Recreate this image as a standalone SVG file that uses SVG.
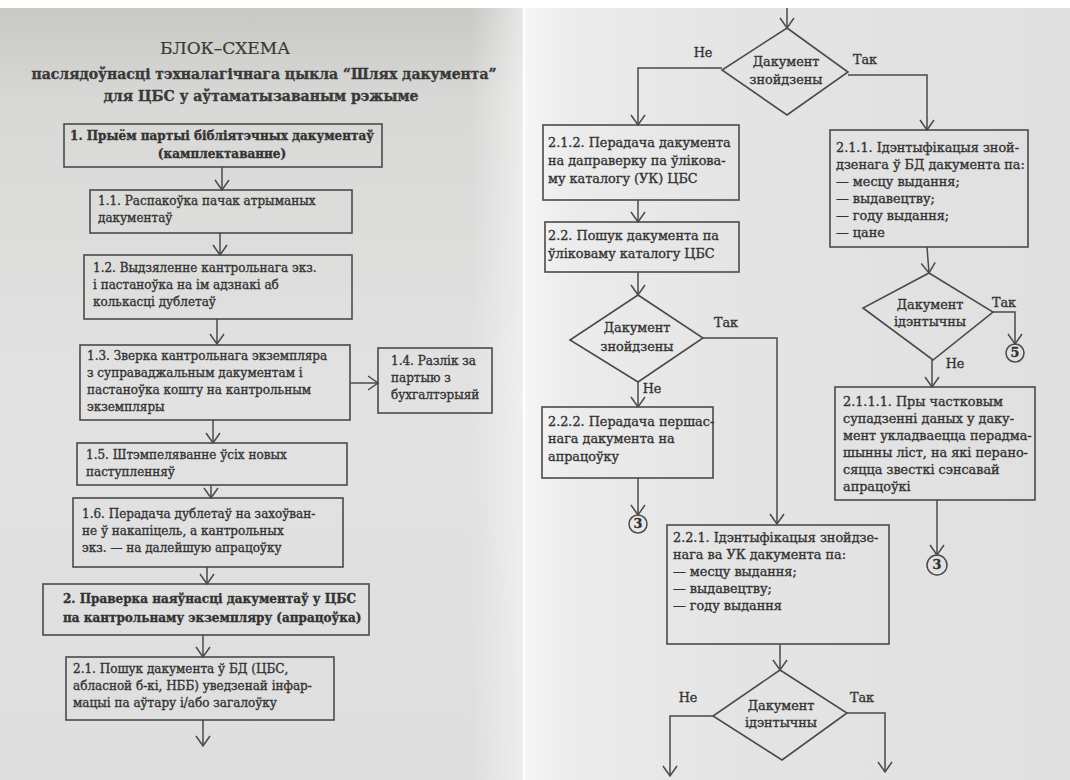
<svg xmlns="http://www.w3.org/2000/svg" width="1070" height="780" viewBox="0 0 1070 780">
<defs>
<linearGradient id="lp" x1="0" y1="0" x2="0" y2="1">
<stop offset="0" stop-color="#c8c8c4"/><stop offset="0.12" stop-color="#d8d8d6"/><stop offset="0.5" stop-color="#e2e2e2"/><stop offset="1" stop-color="#dedede"/>
</linearGradient>
<linearGradient id="lh" x1="0" y1="0" x2="1" y2="0">
<stop offset="0" stop-color="#f4f4f4" stop-opacity="0"/><stop offset="1" stop-color="#f4f4f4" stop-opacity="0.7"/>
</linearGradient>
<linearGradient id="rp" x1="0" y1="0" x2="1" y2="0">
<stop offset="0" stop-color="#f6f6f6"/><stop offset="0.08" stop-color="#ececec"/><stop offset="0.4" stop-color="#e4e4e4"/><stop offset="1" stop-color="#e0e0e0"/>
</linearGradient>
<marker id="ah" viewBox="-12 -8 14 16" markerWidth="14" markerHeight="16" refX="0" refY="0" orient="auto" markerUnits="userSpaceOnUse">
<path d="M-10,-7 L0,0 L-10,7" fill="none" stroke="#4a4a4a" stroke-width="1.5"/>
</marker>
<style>
.bx{fill:none;stroke:#4a4a4a;stroke-width:1.6}
.ar{fill:none;stroke:#4a4a4a;stroke-width:1.5;marker-end:url(#ah)}
text{font-family:"DejaVu Serif","Liberation Serif",serif;fill:#333;stroke:#333;stroke-width:0.35;font-size:12px}
.r text{font-size:12.8px}
.b{font-weight:bold}
.c{text-anchor:middle}
.t1{font-size:17px;fill:#3a3a3a;stroke-width:0.2}
.t2{font-size:14px;font-weight:bold;fill:#3a3a3a}
.cir{fill:none;stroke:#4a4a4a;stroke-width:1.5}
</style>
</defs>
<rect x="0" y="0" width="1070" height="780" fill="#ffffff"/>
<rect x="0" y="8" width="523" height="772" fill="url(#lp)"/>
<rect x="470" y="8" width="53" height="772" fill="url(#lh)"/>
<rect x="525" y="8" width="545" height="772" fill="url(#rp)"/>

<g id="title">
<text x="225" y="54" class="t1 c">БЛОК–СХЕМА</text>
<text x="264" y="79" class="t2 c" textLength="465" lengthAdjust="spacingAndGlyphs">паслядоўнасці тэхналагічнага цыкла “Шлях дакумента”</text>
<text x="261" y="101" class="t2 c" textLength="315" lengthAdjust="spacingAndGlyphs">для ЦБС у аўтаматызаваным рэжыме</text>
</g>

<g id="connectors">
<line x1="222" y1="167" x2="222" y2="190" class="ar"/>
<line x1="220" y1="233" x2="220" y2="255" class="ar"/>
<line x1="217" y1="319" x2="217" y2="344" class="ar"/>
<line x1="350" y1="383" x2="378" y2="383" class="ar"/>
<line x1="213" y1="420" x2="213" y2="443" class="ar"/>
<line x1="211" y1="485" x2="211" y2="498" class="ar"/>
<line x1="207" y1="567" x2="207" y2="584" class="ar"/>
<line x1="203" y1="635" x2="203" y2="657" class="ar"/>
<line x1="203" y1="720" x2="203" y2="746" class="ar"/>

<line x1="787" y1="8" x2="787" y2="28" class="ar"/>
<polyline points="722,68 638,68 638,125" class="ar"/>
<polyline points="848,75 927,75 927,130" class="ar"/>
<line x1="638" y1="200" x2="638" y2="222" class="ar"/>
<line x1="638" y1="272" x2="638" y2="295" class="ar"/>
<polyline points="703,338 777,338 777,524" class="ar"/>
<line x1="638" y1="382" x2="638" y2="407" class="ar"/>
<line x1="638" y1="478" x2="638" y2="515" class="ar"/>
<line x1="927" y1="247" x2="929" y2="273" class="ar"/>
<polyline points="993,312 1015,312 1015,344" class="ar"/>
<line x1="932" y1="360" x2="932" y2="387" class="ar"/>
<line x1="937" y1="500" x2="937" y2="555" class="ar"/>
<line x1="780" y1="644" x2="780" y2="670" class="ar"/>
<polyline points="713,716 670,716 670,776" class="ar"/>
<polyline points="847,713 885,713 885,772" class="ar"/>
</g>

<g id="n1">
<rect x="64" y="124" width="318" height="43" class="bx"/>
<text x="222" y="140" class="b c">1. Прыём партыі бібліятэчных дакументаў</text>
<text x="222" y="158" class="b c">(камплектаванне)</text>
</g>
<g id="n1_1">
<rect x="90" y="190" width="262" height="43" class="bx"/>
<text x="98" y="205">1.1. Распакоўка пачак атрыманых</text>
<text x="98" y="222">дакументаў</text>
</g>
<g id="n1_2">
<rect x="84" y="255" width="268" height="64" class="bx"/>
<text x="93" y="272">1.2. Выдзяленне кантрольнага экз.</text>
<text x="93" y="289">і пастаноўка на ім адзнакі аб</text>
<text x="93" y="306">колькасці дублетаў</text>
</g>
<g id="n1_3">
<rect x="80" y="345" width="270" height="75" class="bx"/>
<text x="87" y="360">1.3. Зверка кантрольнага экземпляра</text>
<text x="87" y="377">з суправаджальным дакументам і</text>
<text x="87" y="394">пастаноўка кошту на кантрольным</text>
<text x="87" y="411">экземпляры</text>
</g>
<g id="n1_4">
<rect x="378" y="348" width="114" height="65" class="bx"/>
<text x="391" y="365">1.4. Разлік за</text>
<text x="391" y="382">партыю з</text>
<text x="391" y="399">бухгалтэрыяй</text>
</g>
<g id="n1_5">
<rect x="77" y="443" width="270" height="42" class="bx"/>
<text x="86" y="459">1.5. Штэмпеляванне ўсіх новых</text>
<text x="86" y="476">паступленняў</text>
</g>
<g id="n1_6">
<rect x="73" y="498" width="270" height="69" class="bx"/>
<text x="82" y="518">1.6. Перадача дублетаў на захоўван-</text>
<text x="82" y="535">не ў накапіцель, а кантрольных</text>
<text x="82" y="552">экз. — на далейшую апрацоўку</text>
</g>
<g id="n2">
<rect x="43" y="584" width="326" height="51" class="bx"/>
<text x="63" y="603" class="b">2. Праверка наяўнасці дакументаў у ЦБС</text>
<text x="63" y="622" class="b">па кантрольнаму экземпляру (апрацоўка)</text>
</g>
<g id="n2_1">
<rect x="66" y="657" width="268" height="63" class="bx"/>
<text x="73" y="673">2.1. Пошук дакумента ў БД (ЦБС,</text>
<text x="73" y="690">абласной б-кі, НББ) уведзенай інфар-</text>
<text x="73" y="707">мацыі па аўтару і/або загалоўку</text>
</g>

<g class="r">
<g id="d1">
<polygon points="787,28 848,72 787,115 722,70" class="bx"/>
<text x="786" y="66" class="c">Дакумент</text>
<text x="786" y="84" class="c">знойдзены</text>
<text x="703" y="57" class="c">Не</text>
<text x="865" y="64" class="c">Так</text>
</g>
<g id="n2_1_2">
<rect x="543" y="125" width="196" height="75" class="bx"/>
<text x="548" y="147">2.1.2. Перадача дакумента</text>
<text x="548" y="165">на даправерку па ўлікова-</text>
<text x="548" y="183">му каталогу (УК) ЦБС</text>
</g>
<g id="n2_1_1">
<rect x="830" y="130" width="198" height="117" class="bx"/>
<text x="836" y="152">2.1.1. Ідэнтыфікацыя зной-</text>
<text x="836" y="169">дзенага ў БД дакумента па:</text>
<text x="836" y="186">— месцу выдання;</text>
<text x="836" y="203">— выдавецтву;</text>
<text x="836" y="220">— году выдання;</text>
<text x="836" y="237">— цане</text>
</g>
<g id="n2_2">
<rect x="545" y="222" width="194" height="50" class="bx"/>
<text x="548" y="240">2.2. Пошук дакумента па</text>
<text x="548" y="258">ўліковаму каталогу ЦБС</text>
</g>
<g id="d2">
<polygon points="638,295 703,338 638,382 570,340" class="bx"/>
<text x="637" y="332" class="c">Дакумент</text>
<text x="637" y="351" class="c">знойдзены</text>
<text x="726" y="327" class="c">Так</text>
<text x="652" y="393" class="c">Не</text>
</g>
<g id="n2_2_2">
<rect x="542" y="407" width="171" height="71" class="bx"/>
<text x="548" y="426">2.2.2. Перадача першас-</text>
<text x="548" y="443">нага дакумента на</text>
<text x="548" y="461">апрацоўку</text>
</g>
<g id="c3a">
<circle cx="638" cy="524" r="9" class="cir"/>
<text x="638" y="528" class="c b">3</text>
</g>
<g id="d3">
<polygon points="929,273 993,312 933,360 863,308" class="bx"/>
<text x="930" y="309" class="c">Дакумент</text>
<text x="930" y="326" class="c">ідэнтычны</text>
<text x="1004" y="307" class="c">Так</text>
<text x="955" y="368" class="c">Не</text>
</g>
<g id="c5">
<circle cx="1015" cy="353" r="9" class="cir"/>
<text x="1015" y="357" class="c b">5</text>
</g>
<g id="n2_1_1_1">
<rect x="835" y="387" width="200" height="113" class="bx"/>
<text x="843" y="406">2.1.1.1. Пры частковым</text>
<text x="843" y="423">супадзенні даных у даку-</text>
<text x="843" y="440">мент укладваецца перадма-</text>
<text x="843" y="457">шынны ліст, на які перано-</text>
<text x="843" y="474">сяцца звесткі сэнсавай</text>
<text x="843" y="491">апрацоўкі</text>
</g>
<g id="c3b">
<circle cx="937" cy="565" r="10" class="cir"/>
<text x="937" y="569" class="c b">3</text>
</g>
<g id="n2_2_1">
<rect x="667" y="525" width="222" height="119" class="bx"/>
<text x="673" y="542">2.2.1. Ідэнтыфікацыя знойдзе-</text>
<text x="673" y="559">нага ва УК дакумента па:</text>
<text x="673" y="576">— месцу выдання;</text>
<text x="673" y="593">— выдавецтву;</text>
<text x="673" y="610">— году выдання</text>
</g>
<g id="d4">
<polygon points="780,670 847,713 782,760 713,716" class="bx"/>
<text x="781" y="710" class="c">Дакумент</text>
<text x="781" y="727" class="c">ідэнтычны</text>
<text x="688" y="702" class="c">Не</text>
<text x="862" y="702" class="c">Так</text>
</g>
</g>
</svg>
